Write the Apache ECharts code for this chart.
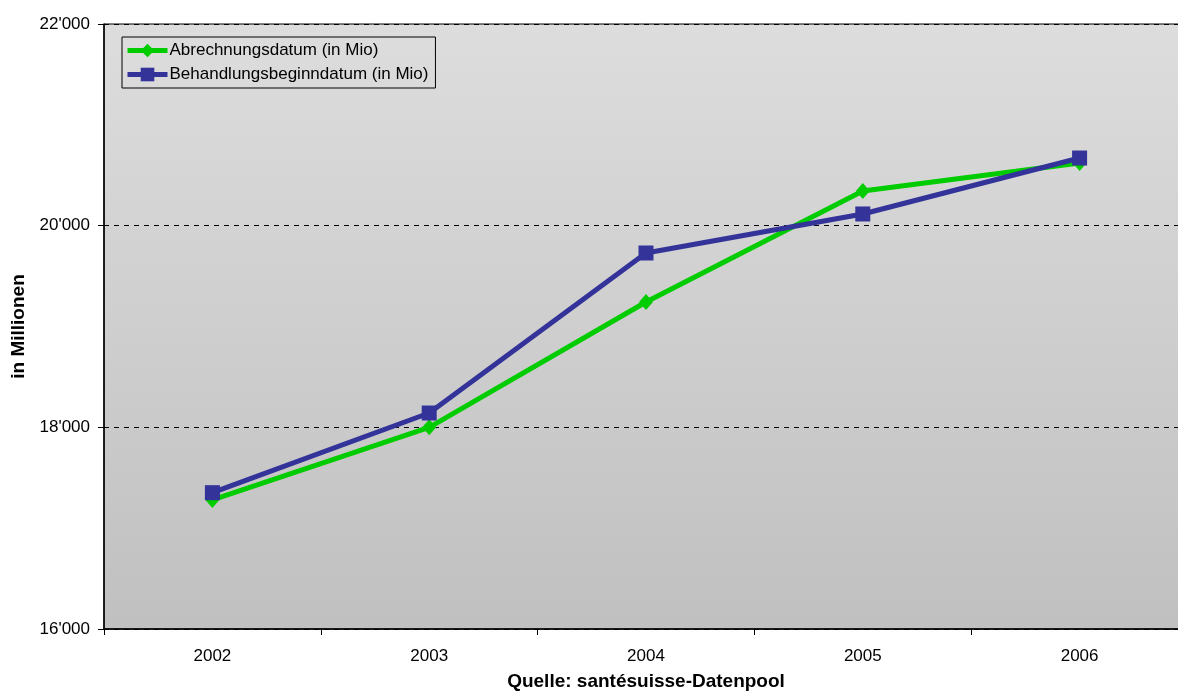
<!DOCTYPE html>
<html>
<head>
<meta charset="utf-8">
<script src="https://cdn.jsdelivr.net/npm/echarts@6/dist/echarts.min.js"></script>
<style>
  html, body { margin: 0; padding: 0; background: #ffffff; }
  #chart { width: 1178px; height: 696px; }
</style>
</head>
<body>
<div id="chart"></div>
<script>
// Years on the category axis
const years = ['2002', '2003', '2004', '2005', '2006'];
// Costs in millions, by billing date
const abrechnungsdatum = [17280, 18000, 19243, 20344, 20622];
// Costs in millions, by treatment start date
const behandlungsbeginndatum = [17352, 18142, 19729, 20116, 20671];
// Value axis range
const yMin = 16000;
const yMax = 22000;
const yStep = 2000;

const FONT = '"Liberation Sans", Arial, sans-serif';

function swissThousands(v) {
  return String(Math.round(v)).replace(/\B(?=(\d{3})+(?!\d))/g, "'");
}

const chart = echarts.init(document.getElementById('chart'), null, { renderer: 'canvas' });

chart.setOption({
  animation: false,
  textStyle: { fontFamily: FONT },
  grid: {
    left: 104,
    top: 24,
    width: 1084,
    height: 605,
    outerBoundsMode: 'none',
    containLabel: false,
    show: true,
    borderColor: '#000000',
    borderWidth: 1,
    backgroundColor: new echarts.graphic.LinearGradient(0, 0, 0, 1, [
      { offset: 0, color: '#dddddd' },
      { offset: 1, color: '#c0c0c0' }
    ])
  },
  legend: {
    orient: 'vertical',
    left: 122,
    top: 37,
    padding: [5, 7, 5, 3],
    itemWidth: 40,
    itemHeight: 17,
    itemGap: 7,
    borderColor: '#000000',
    borderWidth: 1,
    backgroundColor: 'transparent',
    lineStyle: { width: 5 },
    textStyle: { fontFamily: FONT, fontSize: 17, lineHeight: 17, color: '#000000', padding: [0, 0, 0, -3] },
    data: ['Abrechnungsdatum (in Mio)', 'Behandlungsbeginndatum (in Mio)']
  },
  xAxis: {
    type: 'category',
    data: years,
    boundaryGap: true,
    name: 'Quelle: santésuisse-Datenpool',
    nameLocation: 'middle',
    nameGap: 43,
    nameTextStyle: { fontFamily: FONT, fontSize: 19, fontWeight: 'bold', color: '#000000' },
    axisLine: { show: true, lineStyle: { color: '#000000', width: 1.5 } },
    axisTick: { show: true, alignWithLabel: false, length: 6, lineStyle: { color: '#000000' } },
    axisLabel: { fontFamily: FONT, fontSize: 17, color: '#000000', margin: 19 },
    splitLine: { show: false }
  },
  yAxis: {
    type: 'value',
    min: yMin,
    max: yMax,
    interval: yStep,
    name: 'in Millionen',
    nameLocation: 'middle',
    nameGap: 76,
    nameRotate: 90,
    nameTextStyle: { fontFamily: FONT, fontSize: 19, fontWeight: 'bold', color: '#000000' },
    axisLine: { show: true, lineStyle: { color: '#000000', width: 1.5 } },
    axisTick: { show: true, length: 6, lineStyle: { color: '#000000' } },
    axisLabel: {
      fontFamily: FONT, fontSize: 17, color: '#000000', margin: 14,
      formatter: swissThousands
    },
    splitLine: { show: true, lineStyle: { color: '#000000', type: [5, 5], width: 1 } }
  },
  series: [
    {
      name: 'Abrechnungsdatum (in Mio)',
      type: 'line',
      data: abrechnungsdatum,
      symbol: 'diamond',
      symbolSize: [14, 16],
      showAllSymbol: true,
      lineStyle: { color: '#00cc00', width: 5 },
      itemStyle: { color: '#00cc00', borderWidth: 0 },
      z: 3
    },
    {
      name: 'Behandlungsbeginndatum (in Mio)',
      type: 'line',
      data: behandlungsbeginndatum,
      symbol: 'rect',
      symbolSize: 15,
      showAllSymbol: true,
      lineStyle: { color: '#333399', width: 5 },
      itemStyle: { color: '#333399', borderWidth: 0 },
      z: 4
    }
  ]
});
</script>
</body>
</html>
